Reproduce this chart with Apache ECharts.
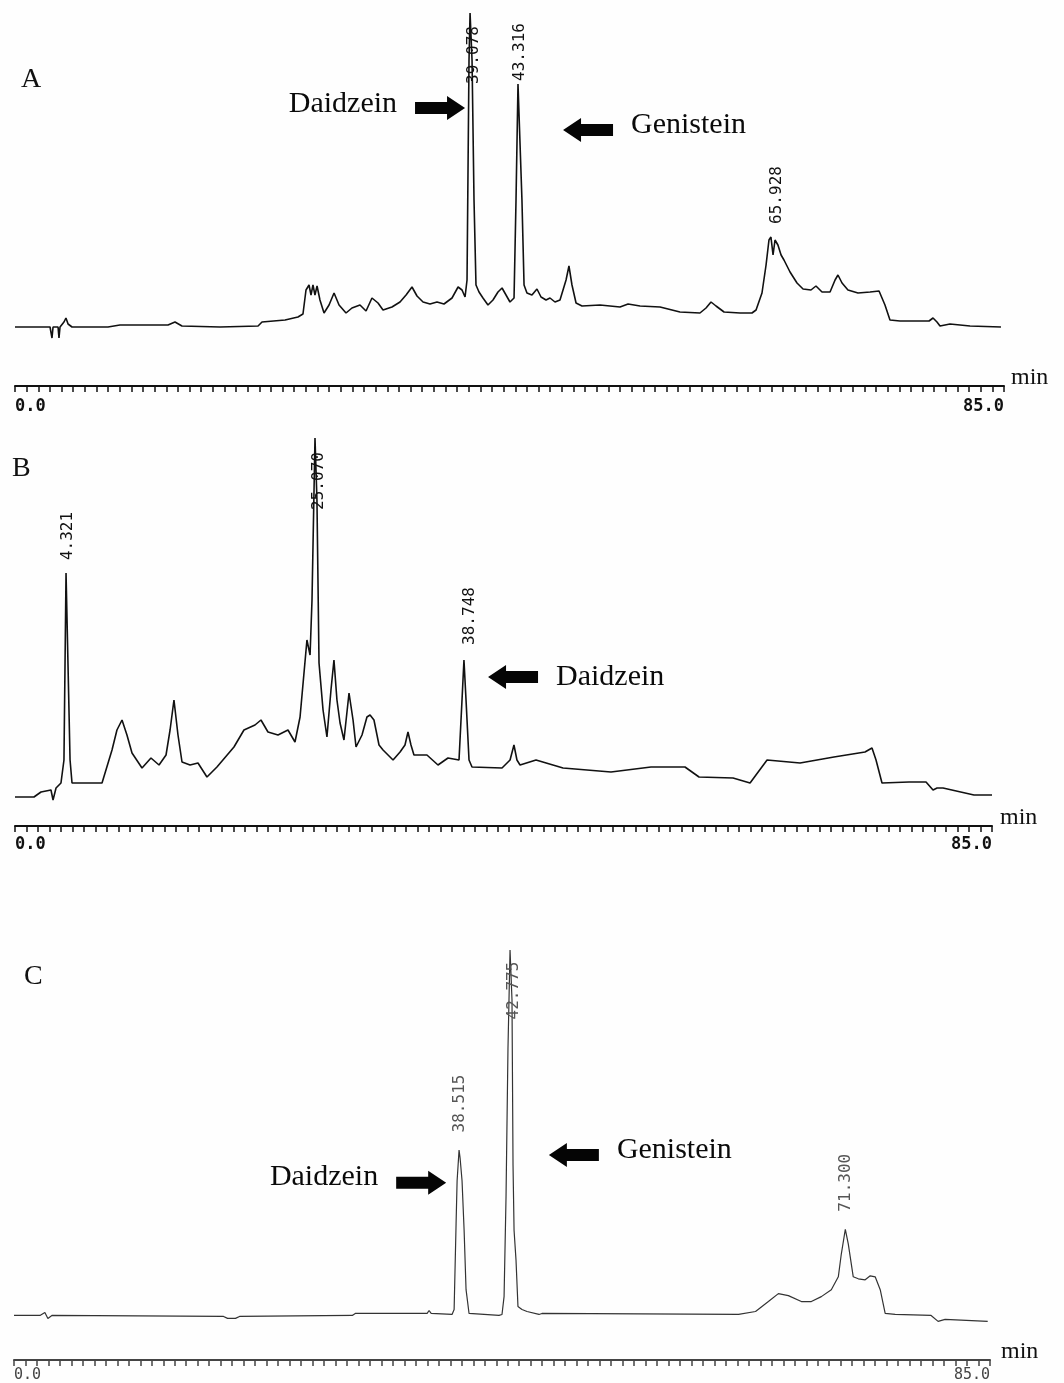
<!DOCTYPE html>
<html>
<head>
<meta charset="utf-8">
<script src="https://cdn.jsdelivr.net/npm/echarts@6/dist/echarts.min.js"></script>
<style>
html,body{margin:0;padding:0;background:#fefefe;}
#chart{width:1064px;height:1383px;}
</style>
</head>
<body>
<div id="chart"></div>
<script>
// ---- Data (retention time in min, detector signal in arbitrary units) ----
const timeA = [0,3.01,3.18,3.27,3.70,3.78,3.87,4.21,4.38,4.56,
  4.90,7.99,9.02,13.15,13.75,14.35,17.62,20.89,21.23,23.21,
  24.32,24.75,25.01,25.27,25.44,25.61,25.78,25.96,26.21,26.56,
  26.99,27.42,27.85,28.45,28.96,29.65,30.17,30.68,31.20,31.63,
  32.40,33.09,33.61,34.12,34.55,35.07,35.67,36.27,36.87,37.56,
  38.08,38.42,38.68,38.85,39.02,39.11,39.28,39.45,39.62,39.88,
  40.22,40.65,41.08,41.51,41.86,42.20,42.54,42.89,43.06,43.23,
  43.40,43.57,43.75,44.00,44.43,44.86,45.21,45.64,45.98,46.41,
  46.84,47.36,47.61,47.87,48.22,48.73,50.28,52.00,52.69,53.72,
  55.44,57.15,58.87,59.39,59.82,60.25,60.94,62.31,63.34,63.69,
  64.20,64.55,64.80,64.97,65.15,65.32,65.57,65.84,66.09,66.61,
  67.21,67.73,68.41,68.84,69.36,70.05,70.48,70.73,71.08,71.59,
  72.45,73.49,74.26,74.77,75.20,76.06,78.56,78.90,79.24,79.50,
  80.36,82.08,84.74];
const signalA = [0,0,-11,0,0,-11,0,5,9,3,
  0,0,2,2,5,1,0,1,5,7,
  10,13,37,42,32,42,32,41,27,14,
  22,34,22,14,19,22,16,29,24,17,
  20,25,32,40,31,25,23,25,23,29,
  40,37,30,47,267,314,267,127,42,35,
  29,22,27,35,39,32,25,29,127,243,
  243,127,42,34,32,38,30,27,29,25,
  27,47,61,42,24,21,22,20,23,21,
  20,15,14,19,25,21,15,14,14,17,
  34,62,87,90,72,87,82,72,67,55,
  44,38,37,41,35,35,47,52,44,37,
  34,35,36,22,7,6,6,9,5,1,
  3,1,0];

const timeB = [0,1.65,2.26,3.13,3.31,3.57,4.00,4.26,4.44,4.61,
  4.79,4.96,7.57,8.44,8.87,9.31,9.74,10.18,11.05,11.83,
  12.53,13.14,13.49,13.83,14.18,14.53,15.23,15.92,16.70,17.57,
  19.05,19.92,20.88,21.40,22.01,22.88,23.75,24.36,24.80,25.40,
  25.67,25.84,26.10,26.27,26.45,26.80,27.14,27.49,27.75,28.01,
  28.28,28.62,29.06,29.41,29.67,30.19,30.62,30.89,31.23,31.67,
  32.02,32.89,33.50,33.93,34.19,34.45,34.71,35.84,36.80,37.67,
  38.63,38.89,39.06,39.24,39.50,39.76,42.37,43.07,43.41,43.67,
  43.94,45.33,47.68,51.85,55.33,58.29,59.51,62.47,63.95,65.43,
  68.30,71.25,73.95,74.56,74.91,75.43,77.78,79.26,79.87,80.22,
  80.74,83.43,85];
const signalB = [0,0,5,7,-3,9,14,37,224,224,
  37,14,14,47,67,77,62,44,29,39,
  32,42,67,97,62,35,32,34,20,30,
  50,67,72,77,65,62,67,55,80,157,
  142,197,359,297,134,87,60,107,137,97,
  74,57,104,77,50,62,80,82,77,52,
  47,37,45,52,65,52,42,42,32,39,
  37,97,137,97,37,30,29,37,52,37,
  32,37,29,25,30,30,20,19,14,37,
  34,40,45,49,37,14,15,15,7,9,
  9,2,2];

const timeC = [0,2.26,2.69,2.95,3.30,18.25,18.60,19.29,19.64,29.46,
  29.72,35.98,36.15,36.33,38.15,38.33,38.50,38.59,38.76,38.85,
  39.02,39.20,39.37,39.63,42.24,42.50,42.68,42.85,43.02,43.20,
  43.37,43.46,43.55,43.72,43.89,44.24,44.68,45.72,45.98,63.10,
  64.58,65.70,66.57,67.44,68.57,69.44,70.31,71.18,71.79,72.05,
  72.40,72.66,73.09,73.53,74.13,74.57,75.00,75.44,75.87,76.74,
  79.87,80.48,81.09,84.8];
const signalC = [0,0,3,-3,0,-1,-3,-3,-1,0,
  2,2,5,2,1,6,92,136,167,159,
  136,86,26,2,0,1,19,119,269,369,
  319,152,86,56,9,6,4,1,2,1,
  4,14,22,20,14,14,19,26,39,62,
  87,72,39,37,36,40,39,26,2,1,
  0,-6,-4,-6];

const axisMin = 0, axisMax = 85, axisStep = 1;
const tickLabels = {0: '0.0', 85: '85.0'};
const peakLabelsA = ['39.078', '43.316', '65.928'];
const peakLabelsB = ['4.321', '25.070', '38.748'];
const peakLabelsC = ['38.515', '42.775', '71.300'];
const panelNames = ['A', 'B', 'C'];
const compoundNames = ['Daidzein', 'Genistein'];

// ---- Build option ----
const zip = (t, s) => t.map((x, i) => [x, s[i]]);
const SERIF = '"Liberation Serif", "Times New Roman", serif';
const MONO = '"DejaVu Sans Mono", monospace';
const ARROW_R = 'path://M0,6L32,6L32,0L50,12L32,24L32,18L0,18Z';
const ARROW_L = 'path://M50,6L18,6L18,0L0,12L18,24L18,18L50,18Z';

function xAxis(gi, color, labelMargin, nameGap, labelSize, labelWeight) {
  return {
    type: 'value', gridIndex: gi, min: axisMin, max: axisMax, interval: axisStep,
    position: 'bottom',
    axisLine: {show: true, onZero: false, lineStyle: {color: color, width: 2}},
    axisTick: {show: true, inside: false, length: 6, lineStyle: {color: color, width: 1.5}},
    splitLine: {show: false},
    axisLabel: {
      show: true, margin: labelMargin, color: color,
      fontFamily: MONO, fontSize: labelSize, fontWeight: labelWeight,
      formatter: v => tickLabels[v] || '',
      alignMinLabel: 'left', alignMaxLabel: 'right'
    },
    name: 'min', nameLocation: 'end', nameGap: nameGap,
    nameTextStyle: {fontFamily: SERIF, fontSize: 24, color: '#111', verticalAlign: 'bottom', padding: [0, 0, -4, 0]}
  };
}
function yAxis(gi, min, max) {
  return {type: 'value', gridIndex: gi, min: min, max: max, show: false, splitLine: {show: false}};
}
function trace(gi, data, color, width) {
  return {
    type: 'line', xAxisIndex: gi, yAxisIndex: gi, data: data,
    showSymbol: false, symbol: 'none', lineStyle: {color: color, width: width},
    silent: true, z: 2
  };
}
function peakLabels(gi, anchors, texts, color) {
  return {
    type: 'scatter', xAxisIndex: gi, yAxisIndex: gi, symbolSize: 0, silent: true, z: 5,
    itemStyle: {opacity: 1},
    data: anchors.map((p, i) => ({value: p, label: {formatter: texts[i]}})),
    label: {show: true, position: 'inside', rotate: 90, fontFamily: MONO, fontSize: 16, color: color}
  };
}
function arrow(gi, pos, dir, text, offset) {
  const right = dir === 'right';
  return {
    type: 'scatter', xAxisIndex: gi, yAxisIndex: gi, silent: true, z: 6,
    symbol: right ? ARROW_R : ARROW_L, symbolSize: [50, 24], symbolKeepAspect: false,
    itemStyle: {color: '#050505', opacity: 1},
    data: [pos],
    label: {
      show: true, formatter: text, position: right ? 'left' : 'right', distance: 18,
      offset: offset, fontFamily: SERIF, fontSize: 30, color: '#0a0a0a'
    }
  };
}

const option = {
  backgroundColor: '#fefefe',
  animation: false,
  grid: [
    {left: 15, right: 60, top: 12, bottom: 997},
    {left: 15, right: 72, top: 437, bottom: 557},
    {left: 14, right: 74, top: 950, bottom: 19}
  ],
  xAxis: [
    xAxis(0, '#111', 12, 7, 17, 'bold'),
    xAxis(1, '#111', 10, 8, 17, 'bold'),
    xAxis(2, '#444', 8, 11, 15, 'normal')
  ],
  yAxis: [yAxis(0, -59, 315), yAxis(1, -29, 360), yAxis(2, -45, 369)],
  graphic: [
    {type: 'text', left: 21, top: 66, style: {text: panelNames[0], font: '28px ' + SERIF, fill: '#111'}},
    {type: 'text', left: 12, top: 455, style: {text: panelNames[1], font: '28px ' + SERIF, fill: '#111'}},
    {type: 'text', left: 24, top: 963, style: {text: panelNames[2], font: '28px ' + SERIF, fill: '#111'}}
  ],
  series: [
    trace(0, zip(timeA, signalA), '#111', 1.6),
    trace(1, zip(timeB, signalB), '#111', 1.6),
    trace(2, zip(timeC, signalC), '#333', 1.2),
    peakLabels(0, [[39.45, 272], [43.40, 275], [65.49, 132]], peakLabelsA, '#111'),
    peakLabels(1, [[4.61, 261], [26.45, 316], [39.59, 181]], peakLabelsB, '#111'),
    peakLabels(2, [[38.85, 214], [43.54, 328], [72.48, 134]], peakLabelsC, '#555'),
    arrow(0, [36.53, 219], 'right', compoundNames[0], [0, -4]),
    arrow(0, [49.25, 197], 'left', compoundNames[1], [0, -5]),
    arrow(1, [43.33, 120], 'left', compoundNames[0], [0, 0]),
    arrow(2, [35.46, 134], 'right', compoundNames[0], [0, -6]),
    arrow(2, [48.76, 162], 'left', compoundNames[1], [0, -5])
  ]
};

const chart = echarts.init(document.getElementById('chart'), null, {renderer: 'canvas'});
chart.setOption(option);
</script>
</body>
</html>
